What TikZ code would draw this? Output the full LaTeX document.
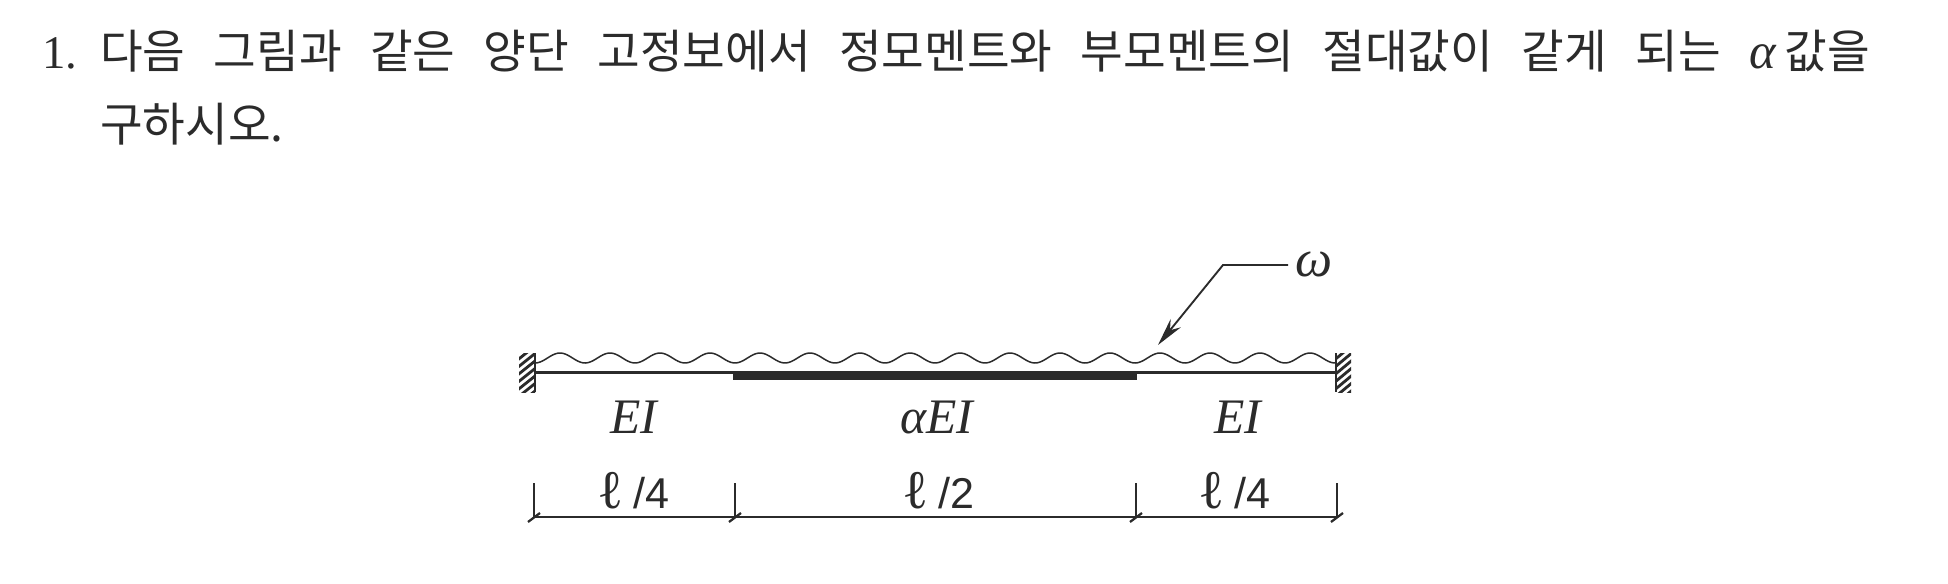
\documentclass[tikz,border=0pt]{standalone}
\usepackage{fontspec}
\setmainfont{Liberation Serif}
\newfontfamily\krfont{Noto Sans CJK KR}
\newfontfamily\sansnum{Liberation Sans}
\usetikzlibrary{arrows.meta}
\definecolor{ink}{HTML}{2B2B2B}
\tikzset{
  krtext/.style={anchor=base west,inner sep=0pt,text=ink,font=\fontsize{49.5}{50}\selectfont\krfont},
  numtext/.style={anchor=base west,inner sep=0pt,text=ink,font=\fontsize{50}{50}\selectfont},
  lab/.style={anchor=base,inner sep=0pt,text=ink,font=\fontsize{53}{53}\selectfont\itshape},
  dimlab/.style={anchor=base,inner sep=0pt,text=ink,font=\fontsize{46}{46}\selectfont\sansnum},
  thinbeam/.style={line width=3.4pt,draw=ink},
  thickbeam/.style={line width=9.5pt,draw=ink},
  dimline/.style={line width=1.4pt,draw=ink},
  loadline/.style={line width=1.6pt,draw=ink},
  hatchline/.style={line width=3pt,draw=ink},
  pointer/.style={line width=2pt,draw=ink,-{Stealth[length=30pt,width=14pt]}},
}
\newcommand{\ellsym}{{\fontspec{Liberation Serif}\fontsize{58}{58}\selectfont\bfseries ℓ}}
\begin{document}
\begin{tikzpicture}[x=0.0375cm,y=-0.0375cm]
\useasboundingbox (0,0) rectangle (1948,584);
\fill[white] (0,0) rectangle (1948,584);
% question text
\node[numtext] (num) at (42,69) {1.};
\node[krtext] (line1) at (100,69) {\hbox to 1889pt{다음\hfill 그림과\hfill 같은\hfill 양단\hfill 고정보에서\hfill 정모멘트와\hfill 부모멘트의\hfill 절대값이\hfill 같게\hfill 되는\hfill {\fontspec{Liberation Serif}\fontsize{54}{54}\selectfont\itshape α}\hspace{10pt}값을}};
\node[krtext] (line2) at (100,141) {구하시오.};
% supports
\coordinate (wl) at (535,372.5);
\coordinate (wr) at (1336,372.5);
\coordinate (t1) at (733,376);
\coordinate (t2) at (1137,376);
\begin{scope}
\clip (519,353) rectangle (535,392);
\foreach \k in {0,...,6} \draw[hatchline] (515,{362+7.5*\k}) -- (540,{342+7.5*\k});
\end{scope}
\begin{scope}
\clip (1336,353) rectangle (1351,392);
\foreach \k in {0,...,6} \draw[hatchline] (1332,{362+7.5*\k}) -- (1356,{342+7.5*\k});
\end{scope}
\draw[line width=2pt,draw=ink] (535,353) -- (535,392);
\draw[line width=2pt,draw=ink] (1336,353) -- (1336,392);
% beam
\draw[thinbeam] (wl) -- (wr);
\draw[thickbeam] (t1) -- (t2);
% distributed load
\draw[loadline] plot[domain=535:1336,samples=320,smooth] (\x,{358-5*cos((\x-560)/50*360)});
% load arrow
\node[lab,font=\fontsize{56}{56}\selectfont\itshape] (w) at (1314,276) {ω};
\coordinate (a0) at (1288,265);
\coordinate (a1) at (1223,265);
\coordinate (a2) at (1158,345);
\draw[pointer] (a0) -- (a1) -- (a2);
% stiffness labels
\node[lab] (e1) at (634,433) {EI};
\node[lab] (e2) at (937,433) {αEI};
\node[lab] (e3) at (1238,433) {EI};
% dimensions
\coordinate (d0) at (534,517);
\coordinate (d1) at (735,517);
\coordinate (d2) at (1136,517);
\coordinate (d3) at (1337,517);
\draw[dimline] (d0) -- (d1) -- (d2) -- (d3);
\foreach \c in {d0,d1,d2,d3} {
  \draw[dimline] (\c) ++(0,-34) -- ++(0,34);
  \draw[line width=2.4pt,draw=ink] (\c) ++(-6,5) -- ++(12,-9);
}
\node[dimlab] (l1) at (635,508) {\ellsym\ /4};
\node[dimlab] (l2) at (940,508) {\ellsym\ /2};
\node[dimlab] (l3) at (1236,508) {\ellsym\ /4};
\end{tikzpicture}
\end{document}
